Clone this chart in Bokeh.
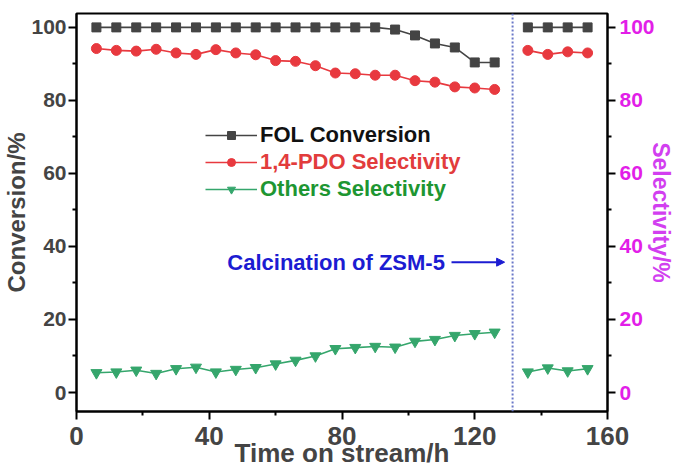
from bokeh.plotting import figure
from bokeh.models import (Range1d, LinearAxis, FixedTicker, Legend, LegendItem,
                          Span, Arrow, NormalHead, Label)
from bokeh.embed import file_html
from bokeh.resources import INLINE

# ---- data ----
time_before = [6, 12, 18, 24, 30, 36, 42, 48, 54, 60, 66, 72, 78, 84, 90, 96, 102, 108, 114, 120, 126]
fol_before = [100, 100, 100, 100, 100, 100, 100, 100, 100, 100, 100, 100, 100, 100, 100,
              99.4, 97.8, 95.6, 94.5, 90.4, 90.4]
pdo_before = [94.2, 93.7, 93.5, 94.0, 93.0, 92.6, 93.9, 93.0, 92.5, 90.9, 90.7, 89.5, 87.5, 87.3, 86.9,
              86.9, 85.4, 85.0, 83.7, 83.4, 83.0]
oth_before = [5.4, 5.6, 6.1, 5.2, 6.5, 6.9, 5.6, 6.3, 6.8, 7.8, 8.8, 10.0, 12.0, 12.3, 12.6,
              12.4, 14.0, 14.5, 15.6, 16.1, 16.5]

time_after = [136, 142, 148, 154]
fol_after = [100, 100, 100, 100]
pdo_after = [93.7, 92.6, 93.3, 93.0]
oth_after = [5.6, 6.7, 5.9, 6.5]

calcination_time = 131.4
arrow_from, arrow_to, arrow_level = 113, 129, 35.7
x_ticks = [0, 40, 80, 120, 160]
x_minor = [20, 60, 100, 140]
y_ticks = [0, 20, 40, 60, 80, 100]
y_minor = [10, 30, 50, 70, 90]

FONT = "Liberation Sans"
GRAY = "#444444"
RED = "#e8393f"
GREEN = "#35a66c"
MAGENTA = "#e21ee8"
VIOLET = "#d23ff0"
BLUE = "#1c1cd2"

p = figure(width=676, height=470,
           x_range=Range1d(0, 160), y_range=Range1d(-5.2, 103.8),
           output_backend="svg", toolbar_location=None,
           min_border_top=13, min_border_left=0, min_border_right=0, min_border_bottom=0)
p.extra_y_ranges = {"sel": Range1d(-5.2, 103.8)}
p.xgrid.visible = False
p.ygrid.visible = False
p.outline_line_color = "black"
p.outline_line_width = 2
p.background_fill_color = "white"
p.border_fill_color = "white"

right = LinearAxis(y_range_name="sel")
p.add_layout(right, "right")

for ax in [p.xaxis[0], p.yaxis[0], right]:
    ax.axis_line_width = 2
    ax.axis_line_color = "black"
    ax.major_tick_line_width = 2
    ax.minor_tick_line_width = 2
    ax.major_tick_out = 8
    ax.major_tick_in = 0
    ax.minor_tick_out = 4
    ax.minor_tick_in = 0
    ax.major_label_text_font = FONT
    ax.major_label_text_font_style = "bold"
    ax.axis_label_text_font = FONT
    ax.axis_label_text_font_style = "bold"

p.xaxis[0].ticker = FixedTicker(ticks=x_ticks, minor_ticks=x_minor)
p.xaxis[0].major_label_text_font_size = "26px"
p.xaxis[0].major_label_standoff = 7
p.xaxis[0].axis_label = "Time on stream/h"
p.xaxis[0].axis_label_text_font_size = "26px"
p.xaxis[0].axis_label_standoff = -10

p.yaxis[0].ticker = FixedTicker(ticks=y_ticks, minor_ticks=y_minor)
p.yaxis[0].major_label_text_font_size = "21px"
p.yaxis[0].major_label_standoff = 2
p.yaxis[0].axis_label = "Conversion/%"
p.yaxis[0].axis_label_text_font_size = "24px"
p.yaxis[0].axis_label_standoff = -2

right.ticker = FixedTicker(ticks=y_ticks, minor_ticks=y_minor)
right.major_label_text_font_size = "21px"
right.major_label_text_color = MAGENTA
right.major_label_standoff = 4
right.axis_label = "Selectivity/%"
right.axis_label_text_color = VIOLET
right.axis_label_text_font_size = "23px"
right.axis_label_standoff = -10

# vertical dotted line
p.add_layout(Span(location=calcination_time, dimension="height",
                  line_color="#6a78c8", line_dash="2 2", line_width=2))

series = [
    ("FOL Conversion", fol_before, fol_after, GRAY, "square", 9, "#111111"),
    ("1,4-PDO Selectivity", pdo_before, pdo_after, RED, "circle", 10, "#e23c3c"),
    ("Others Selectivity", oth_before, oth_after, GREEN, "inverted_triangle", 11, "#1e9632"),
]

legend_rows = [263, 236, 209]
for (name, yb, ya, col, mk, sz, tcol), ly in zip(series, legend_rows):
    l1 = p.line(time_before, yb, line_color=col, line_width=1.6)
    p.line(time_after, ya, line_color=col, line_width=1.6)
    s1 = p.scatter(time_before, yb, marker=mk, size=sz, fill_color=col, line_color=col)
    p.scatter(time_after, ya, marker=mk, size=sz, fill_color=col, line_color=col)
    leg = Legend(items=[LegendItem(label=name, renderers=[l1, s1])],
                 location=(129, ly), glyph_width=52, glyph_height=20, label_height=20,
                 label_text_font=FONT, label_text_font_style="bold",
                 label_text_font_size="22px", label_text_color=tcol,
                 label_standoff=3, padding=0, margin=0, spacing=0,
                 border_line_color=None, background_fill_alpha=0)
    p.add_layout(leg)

p.add_layout(Arrow(end=NormalHead(size=8, fill_color=BLUE, line_color=BLUE),
                   x_start=arrow_from, y_start=arrow_level, x_end=arrow_to, y_end=arrow_level,
                   line_color=BLUE, line_width=2))
p.add_layout(Label(x=arrow_from - 2, y=arrow_level, text="Calcination of ZSM-5",
                   text_align="right", text_baseline="middle", text_font=FONT,
                   text_font_style="bold", text_font_size="22px", text_color=BLUE))

open("out.html", "w").write(file_html(p, INLINE))
